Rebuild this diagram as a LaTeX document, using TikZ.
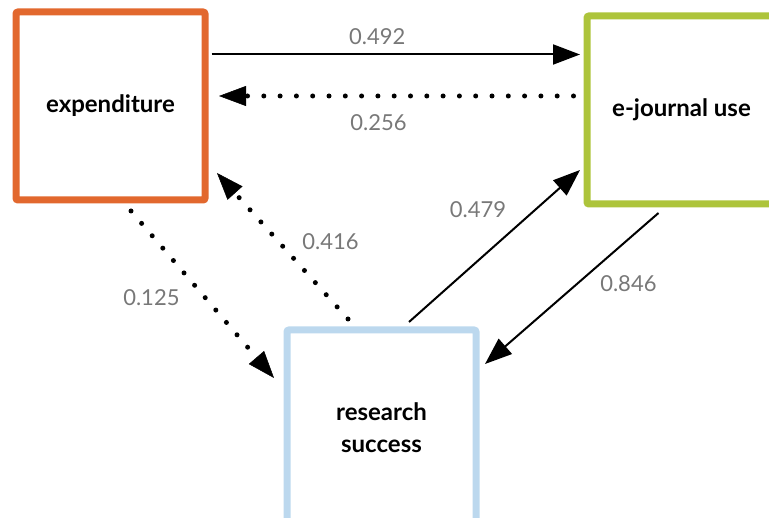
\documentclass[tikz,border=0pt]{standalone}
\usepackage{fontspec}
\setmainfont{Lato}
\usetikzlibrary{positioning,arrows.meta}
\definecolor{expcol}{RGB}{226,104,46}
\definecolor{ejcol}{RGB}{173,196,59}
\definecolor{rscol}{RGB}{188,216,238}
\definecolor{labcol}{RGB}{120,120,120}

\begin{document}
\begin{tikzpicture}[x=1pt, y=-1pt, node distance={30pt},
    main/.style = {draw, line width=7pt, rounded corners=2pt, minimum width=189pt, minimum height=188pt, align=center, font=\bfseries\fontsize{24}{32}\selectfont},
    solid line/.style = {line width=2pt, -{Triangle[length=27pt, width=20pt]}},
    dot line/.style = {line width=5pt, line cap=round, dash pattern=on 0pt off 16.3pt, -{Triangle[length=27pt, width=20pt, line width=0.5pt]}},
    lab/.style = {text=labcol, font=\fontsize{22}{26}\selectfont} ]
        \useasboundingbox (0,0) rectangle (769,518);
        \clip (0,0) rectangle (769,518);

        \node[main, draw=expcol] (exp) at (110.5,106) {expenditure};
        \node[main, draw=ejcol] (ej) [right = 375pt of exp, yshift=-4pt] {e-journal use};
        \node[main, draw=rscol, minimum height=196pt] (rs) [below right = 123pt and 75pt of exp] {research\\success};


        \draw[solid line] ([xshift=3pt, yshift=51.5pt]exp.east) -- ([xshift=-3.5pt, yshift=55.5pt]ej.west) node [lab, pos=0.45, above=5pt] {0.492};
        \draw[dot line] ([xshift=-10pt, yshift=14pt]ej.west) -- ([xshift=10.5pt, yshift=10pt]exp.east) node [lab, pos=0.55, below=13pt] {0.256};
        \draw[dot line] ([xshift=64.5pt, yshift=7.5pt]rs.north west) -- ([xshift=8.5pt, yshift=30.5pt]exp.south east) node [lab, pos=0.53, right=18pt] {0.416};
        \draw[dot line] ([xshift=20.5pt, yshift=-7.5pt]exp.south) -- ([xshift=-9.5pt, yshift=50pt]rs.west) node [lab, pos=0.52, left=20pt] {0.125};
        \draw[solid line] ([xshift=27.5pt, yshift=4.5pt]rs.north) -- ([xshift=-3.5pt, yshift=37.5pt]ej.south west) node [lab, pos=0.74, left=25pt] {0.479};
        \draw[solid line] ([xshift=-23pt, yshift=-5.5pt]ej.south) -- ([xshift=5.5pt, yshift=-37.5pt]rs.north east) node [lab, pos=0.47, right=19pt] {0.846};

    \end{tikzpicture}
\end{document}
